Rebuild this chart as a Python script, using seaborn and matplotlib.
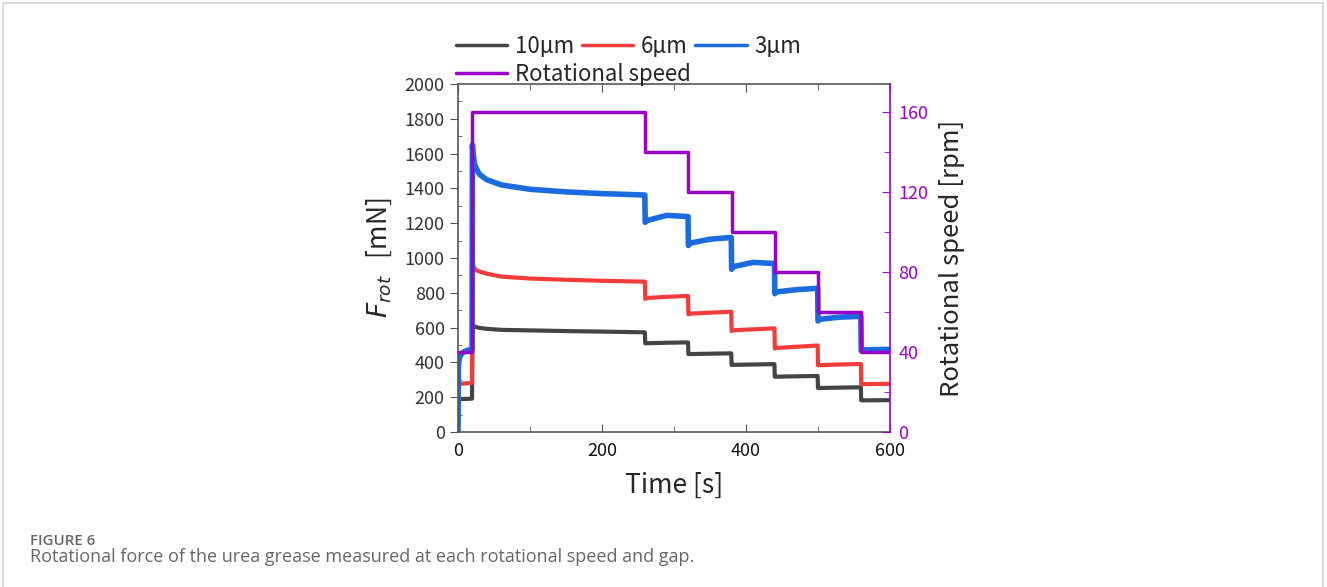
import seaborn as sns
import pandas as pd
import matplotlib.pyplot as plt
from matplotlib.patches import Rectangle
from matplotlib.ticker import MultipleLocator

# Force data, common time grid for the three gaps
time_s = [0, 0.5, 2, 6, 12, 19.5, 20, 21, 23, 26, 30, 40, 60, 100, 150, 200, 259.5,
          260, 262, 290, 319.5, 320, 322, 350, 379.5, 380, 382, 410, 439.5,
          440, 442, 470, 499.5, 500, 502, 530, 559.5, 560, 562, 600]
force_10um = [0, 185, 188, 190, 190, 192, 615, 610, 606, 602, 598, 593, 587, 584, 580, 577, 573,
              510, 510, 513, 515, 448, 448, 450, 452, 385, 386, 388, 390,
              318, 318, 320, 322, 253, 253, 255, 257, 182, 182, 183]
force_6um = [0, 270, 275, 278, 280, 282, 970, 955, 940, 928, 922, 910, 893, 882, 875, 869, 864,
             765, 770, 777, 782, 676, 680, 686, 691, 580, 585, 590, 596,
             480, 483, 490, 497, 383, 384, 388, 391, 274, 275, 277]
force_3um = [0, 380, 430, 455, 468, 475, 1650, 1600, 1540, 1510, 1480, 1450, 1420, 1395, 1380, 1370, 1362,
             1205, 1215, 1245, 1238, 1072, 1085, 1108, 1118, 935, 950, 975, 968,
             795, 805, 818, 826, 638, 648, 660, 665, 468, 472, 475]

# Rotational speed steps
speed_t = [0, 20, 260, 320, 380, 440, 500, 560, 600]
speed_rpm = [40, 160, 140, 120, 100, 80, 60, 40, 40]

gaps = ["10µm", "6µm", "3µm"]
colors = {"10µm": "#444444", "6µm": "#f23c3c", "3µm": "#1a6be0"}
purple = "#9b00c8"

df = pd.DataFrame({
    "Time": time_s * 3,
    "Force": force_10um + force_6um + force_3um,
    "Gap": [g for g in gaps for _ in time_s],
})
df_speed = pd.DataFrame({"Time": speed_t, "Speed": speed_rpm})

sns.set_style("ticks")
plt.rcParams["font.family"] = ["Noto Sans CJK JP", "DejaVu Sans"]
plt.rcParams["axes.unicode_minus"] = False

fig = plt.figure(figsize=(13.27, 5.87), dpi=100)
ax = fig.add_axes([458 / 1327, 1 - 432 / 587, 432 / 1327, 348 / 587])

sns.lineplot(data=df, x="Time", y="Force", hue="Gap", hue_order=gaps, palette=colors,
             estimator=None, sort=False, linewidth=3, ax=ax)
for line in ax.get_lines():
    if line.get_color() == colors["3µm"]:
        line.set_linewidth(4)

ax2 = ax.twinx()
sns.lineplot(data=df_speed, x="Time", y="Speed", color=purple, linewidth=2.5,
             drawstyle="steps-post", estimator=None, ax=ax2, label="Rotational speed")

ax.set_xlim(0, 600)
ax.set_ylim(0, 2000)
ax2.set_ylim(0, 174)

gray = "#555555"
for s in ["left", "bottom", "top"]:
    ax.spines[s].set_color(gray)
    ax.spines[s].set_linewidth(1.2)
ax.spines["right"].set_visible(False)
for s in ["left", "bottom", "top"]:
    ax2.spines[s].set_visible(False)
ax2.spines["right"].set_color(purple)
ax2.spines["right"].set_linewidth(1.2)

ax.xaxis.set_major_locator(MultipleLocator(200))
ax.xaxis.set_minor_locator(MultipleLocator(100))
ax.yaxis.set_major_locator(MultipleLocator(200))
ax.yaxis.set_minor_locator(MultipleLocator(100))
ax2.yaxis.set_major_locator(MultipleLocator(40))
ax2.yaxis.set_minor_locator(MultipleLocator(20))

ax.tick_params(axis="x", which="both", direction="in", top=True, color=gray,
               labelsize=13, labelcolor="#111111", pad=7)
ax.tick_params(axis="x", which="major", length=6)
ax.tick_params(axis="x", which="minor", length=4)
ax.tick_params(axis="y", which="both", direction="out", color=gray,
               labelsize=13, labelcolor="#333333")
ax.tick_params(axis="y", which="major", length=6)
ax.tick_params(axis="y", which="minor", length=3, direction="in")
ax2.tick_params(axis="y", which="both", direction="in", color=purple,
                labelsize=13, labelcolor=purple, pad=6)
ax2.tick_params(axis="y", which="major", length=6)
ax2.tick_params(axis="y", which="minor", length=4)

ax.set_xlabel("Time [s]", fontsize=19, labelpad=9)
ax.set_ylabel(r"$F_{rot}$   [mN]", fontsize=19, labelpad=8)
ax2.set_ylabel("Rotational speed [rpm]", fontsize=18.5, labelpad=8)

# Legends above the plot
handles, labels = ax.get_legend_handles_labels()
ax.get_legend().remove()
h2, l2 = ax2.get_legend_handles_labels()
ax2.get_legend().remove()
leg_kw = dict(frameon=False, fontsize=16, handlelength=2.3, handletextpad=0.35,
              columnspacing=0.35, borderpad=0, borderaxespad=0, loc="upper left")
leg1 = fig.legend(handles, labels, ncol=3, bbox_to_anchor=(456 / 1327, 1 - 35 / 587), **leg_kw)
leg2 = fig.legend(h2, l2, bbox_to_anchor=(456 / 1327, 1 - 63 / 587), **leg_kw)
for h in leg1.legend_handles + leg2.legend_handles:
    h.set_linewidth(2.5)

# Frame and caption
fig.patches.append(Rectangle((3 / 1327, -0.02), 1320 / 1327, 1 - 3 / 587 + 0.02,
                             transform=fig.transFigure, fill=False,
                             edgecolor="#d4d4d4", linewidth=1.2))
fig.text(30 / 1327, 1 - 541 / 587, "FIGURE 6", fontsize=10.8, color="#666666",
         family=["Open Sans"], fontweight="semibold", va="center")
fig.text(30 / 1327, 1 - 557 / 587,
         "Rotational force of the urea grease measured at each rotational speed and gap.",
         fontsize=13, color="#666666", family=["Open Sans"], va="center")

plt.savefig("out.png", dpi=100)
